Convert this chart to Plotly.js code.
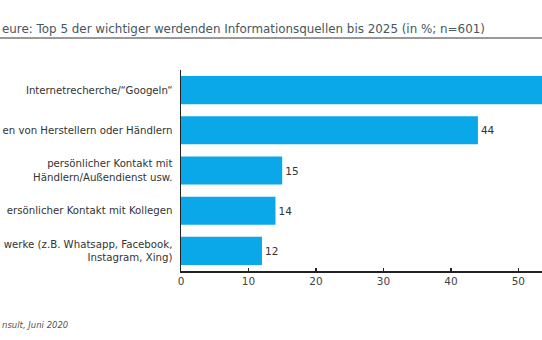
<!DOCTYPE html>
<html>
<head>
<meta charset="utf-8">
<script src="https://cdn.plot.ly/plotly-3.0.1.min.js"></script>
<style>
html,body{margin:0;padding:0;background:#fff;}
#chart{width:542px;height:340px;}
</style>
</head>
<body>
<div id="chart"></div>
<script>
const categories = [
  "Internetrecherche/“Googeln“",
  "en von Herstellern oder Händlern",
  "persönlicher Kontakt mit<br>Händlern/Außendienst usw.",
  "ersönlicher Kontakt mit Kollegen",
  "werke (z.B. Whatsapp, Facebook,<br>Instagram, Xing)"
];
const values = [62, 44, 15, 14, 12];
const tickValues = [0, 10, 20, 30, 40, 50];
const titleText = "eure: Top 5 der wichtiger werdenden Informationsquellen bis 2025 (in %; n=601)";
const sourceText = "nsult, Juni 2020";

const font = "DejaVu Sans, sans-serif";

const trace = {
  type: "bar",
  orientation: "h",
  y: categories,
  x: values,
  marker: {color: "#0aa8e8"},
  // the first bar runs past the cropped right edge, so its label is not visible
  text: values.map((v, i) => i === 0 ? "" : String(v)),
  textposition: "outside",
  cliponaxis: true,
  textfont: {family: font, size: 10.5, color: "#333"},
  hoverinfo: "none"
};

const layout = {
  width: 542,
  height: 340,
  margin: {l: 181, r: 0, t: 70, b: 69, pad: 0},
  paper_bgcolor: "#fff",
  plot_bgcolor: "#fff",
  showlegend: false,
  bargap: 0.3,
  font: {family: font, color: "#333"},
  xaxis: {
    range: [0, 53.5],
    tickvals: tickValues,
    ticktext: tickValues.map(String),
    showgrid: false,
    zeroline: false,
    showline: true,
    linecolor: "#222",
    linewidth: 1.5,
    ticks: "inside",
    ticklen: 3,
    tickcolor: "#222",
    tickwidth: 1.5,
    tickfont: {family: font, size: 10.5, color: "#444"},
    fixedrange: true
  },
  yaxis: {
    autorange: "reversed",
    showgrid: false,
    zeroline: false,
    showline: true,
    linecolor: "#222",
    linewidth: 1.5,
    ticks: "",
    ticklabelstandoff: 5,
    tickfont: {family: font, size: 10.2, color: "#333"},
    automargin: false,
    fixedrange: true
  },
  shapes: [{
    type: "line", xref: "paper", yref: "paper",
    x0: -0.6, x1: 1.0, y0: (340 - 38 - 69) / 201, y1: (340 - 38 - 69) / 201,
    line: {color: "#999", width: 2}
  }],
  annotations: [
    {
      text: titleText, xref: "paper", yref: "paper",
      x: -181 / 361, y: (340 - 29 - 69) / 201,
      xanchor: "left", yanchor: "middle", showarrow: false,
      font: {family: font, size: 11.9, color: "#46575e"}
    },
    {
      text: "<i>" + sourceText + "</i>", xref: "paper", yref: "paper",
      x: -181 / 361, y: (340 - 325 - 69) / 201,
      xanchor: "left", yanchor: "middle", showarrow: false,
      font: {family: font, size: 8.5, color: "#555"}
    }
  ]
};

Plotly.newPlot("chart", [trace], layout, {displayModeBar: false, staticPlot: true});
</script>
</body>
</html>
